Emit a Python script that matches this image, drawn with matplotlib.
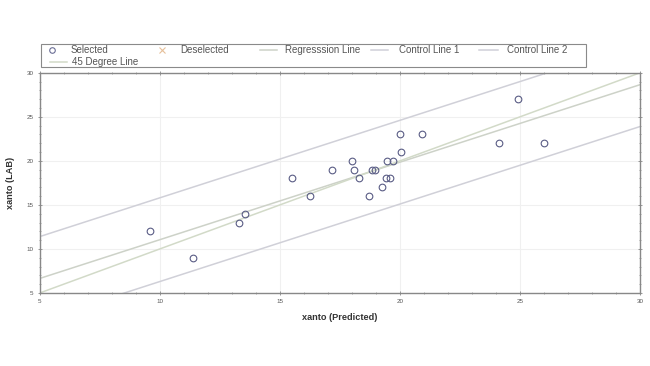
import matplotlib
matplotlib.use("Agg")
import matplotlib.pyplot as plt
import numpy as np
from matplotlib.lines import Line2D
from matplotlib.patches import Rectangle
from matplotlib.ticker import MultipleLocator

plt.rcParams['font.family'] = ['Liberation Sans', 'DejaVu Sans']

# Data
predicted = [9.6, 11.4, 13.3, 13.55, 15.5, 16.25, 17.15, 18.0, 18.1, 18.3, 18.7,
             18.85, 18.95, 19.25, 19.45, 19.4, 19.6, 19.7, 20.0, 20.05, 20.9,
             24.1, 24.9, 26.0]
lab = [12, 9, 13, 14, 18, 16, 19, 20, 19, 18, 16, 19, 19, 17, 20, 18, 18, 20,
       23, 21, 23, 22, 27, 22]

# Line definitions (slope, intercept)
line_names = ["Regresssion Line", "Control Line 1", "Control Line 2", "45 Degree Line"]
line_slopes = [0.88, 0.88, 0.88, 1.0]
line_intercepts = [2.25, 7.0, -2.5, 0.0]
line_colors = ["#cdd2c8", "#d0d0d8", "#d0d0d8", "#d2dac8"]

xlim = (5, 30)
ylim = (5, 30)
x_ticks = [5, 10, 15, 20, 25, 30]
y_ticks = [5, 10, 15, 20, 25, 30]

W, H = 650, 366
fig = plt.figure(figsize=(W / 100, H / 100), dpi=100)
fig.patch.set_facecolor("white")
ax = fig.add_axes([39.7 / W, 1 - 293 / H, (640.3 - 39.7) / W, (293 - 72.7) / H])

ax.grid(True, which="major", color="#f0f0f0", linewidth=0.8, zorder=0)

xs = np.array(xlim)
for name, m, b, c in zip(line_names, line_slopes, line_intercepts, line_colors):
    ax.plot(xs, m * xs + b, color=c, linewidth=1.1, zorder=2)

ax.plot(predicted, lab, linestyle="none", marker="o", markersize=4.8,
        markerfacecolor="none", markeredgecolor="#5a5d85", markeredgewidth=0.8,
        zorder=3)

ax.set_xlim(*xlim)
ax.set_ylim(*ylim)
ax.set_xticks(x_ticks)
ax.set_yticks(y_ticks)
ax.xaxis.set_minor_locator(MultipleLocator(1))
ax.yaxis.set_minor_locator(MultipleLocator(1))
ax.tick_params(which="both", direction="inout", colors="#888888",
               labelcolor="#555555", labelsize=4.5, top=True, right=True)
ax.tick_params(which="major", length=3, width=0.6, pad=3)
ax.tick_params(which="minor", length=2, width=0.5)
for s in ax.spines.values():
    s.set_color("#888888")
    s.set_linewidth(1.0)

ax.set_xlabel("xanto (Predicted)", fontsize=6.6, fontweight="bold", color="#333333", labelpad=6)
ax.set_ylabel("xanto (LAB)", fontsize=6.6, fontweight="bold", color="#333333", labelpad=8)

# Legend box drawn manually
def fx(px):
    return px / W

def fy(py):
    return 1 - py / H

fig.patches.append(Rectangle((fx(41), fy(67)), fx(586) - fx(41), fy(44) - fy(67),
                             transform=fig.transFigure, fill=False,
                             edgecolor="#8a8a8a", linewidth=0.8))
tc = "#555555"
fs = 7.0
r1 = 50
r2 = 62
# Selected
fig.lines.append(Line2D([fx(52)], [fy(r1)], transform=fig.transFigure, marker="o",
                        markersize=4.0, markerfacecolor="none",
                        markeredgecolor="#6a6d95", markeredgewidth=0.8))
fig.text(fx(71), fy(r1), "Selected", fontsize=fs, color=tc, va="center")
# Deselected
fig.lines.append(Line2D([fx(162)], [fy(r1)], transform=fig.transFigure, marker="x",
                        markersize=4.5, color="#e6c09a", markeredgewidth=0.8))
fig.text(fx(180), fy(r1), "Deselected", fontsize=fs, color=tc, va="center")
legend_line_pos = [(260, 277, 285, r1), (371, 388, 399, r1), (479, 498, 507, r1), (50, 67, 72, r2)]
for (x0, x1, xt, yy), name, c in zip(legend_line_pos, line_names, line_colors):
    fig.lines.append(Line2D([fx(x0), fx(x1)], [fy(yy), fy(yy)], transform=fig.transFigure,
                            color=c, linewidth=1.1))
    fig.text(fx(xt), fy(yy), name, fontsize=fs, color=tc, va="center")

fig.savefig("out.png", dpi=100, facecolor="white")
